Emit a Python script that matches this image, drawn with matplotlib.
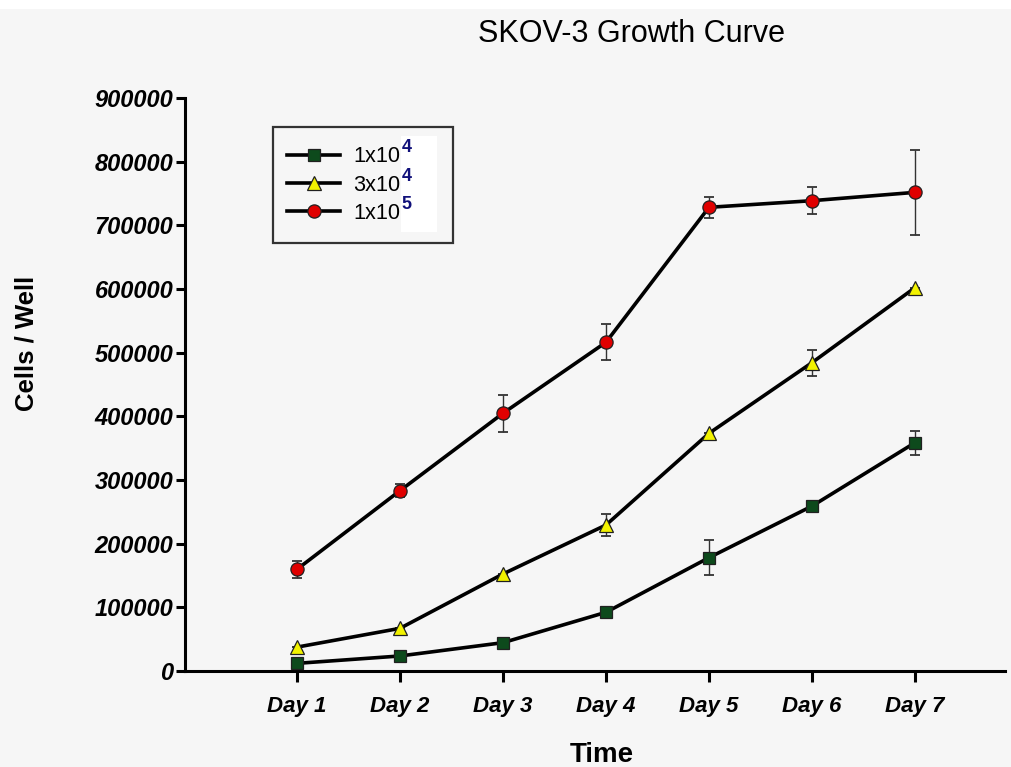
import matplotlib
matplotlib.use("Agg")
import matplotlib.pyplot as plt
from matplotlib.patches import Rectangle

days = ["Day 1", "Day 2", "Day 3", "Day 4", "Day 5", "Day 6", "Day 7"]

cells_1e4 = [12000, 23600, 44500, 92200, 178000, 259000, 358600]
err_1e4 = [0, 0, 0, 0, 27000, 0, 19000]

cells_3e4 = [37500, 67000, 152400, 229300, 373300, 484300, 602100]
err_3e4 = [0, 0, 0, 17500, 0, 20500, 0]

cells_1e5 = [159700, 283200, 404800, 516300, 728300, 738700, 751800]
err_1e5 = [13000, 10500, 29000, 28000, 16000, 21000, 66500]

yticks = [0, 100000, 200000, 300000, 400000, 500000, 600000, 700000, 800000, 900000]

legend_bases = ["1x10", "3x10", "1x10"]
legend_exps = ["4", "4", "5"]

plt.rcParams["font.family"] = ["Liberation Sans", "DejaVu Sans"]

W, H = 1011, 767
bg = "#f6f6f6"
fig = plt.figure(figsize=(W / 100, H / 100), dpi=100, facecolor=bg)
fig.patches.append(Rectangle((0, 1 - 9 / H), 1, 9 / H, transform=fig.transFigure,
                             facecolor="white", edgecolor="none", zorder=0))

ax = fig.add_axes([185 / W, 1 - 671 / H, 820 / W, 573 / H])
ax.set_facecolor(bg)

x = list(range(len(days)))

series = [
    (cells_1e4, err_1e4, "s", "#0d4a1c", 8.5),
    (cells_3e4, err_3e4, "^", "#f2f200", 10),
    (cells_1e5, err_1e5, "o", "#e00000", 9.5),
]

handles = []
for vals, errs, mk, col, ms in series:
    ax.errorbar(x, vals, yerr=errs, fmt="none", ecolor="#333333",
                elinewidth=1.0, capsize=3.8, capthick=1.3, zorder=2)
    h, = ax.plot(x, vals, color="black", lw=2.6, marker=mk, markersize=ms,
                 markerfacecolor=col, markeredgecolor="#202020",
                 markeredgewidth=0.9, zorder=3)
    handles.append(h)

ax.set_xlim(-1.087, 6.874)
ax.set_ylim(0, 900000)
ax.set_yticks(yticks)
ax.set_yticklabels([str(v) for v in yticks])
ax.set_xticks(x)
ax.set_xticklabels(days)

for s in ["top", "right"]:
    ax.spines[s].set_visible(False)
ax.spines["left"].set_linewidth(2.2)
ax.spines["bottom"].set_linewidth(2.2)
ax.tick_params(axis="y", direction="out", length=6.5, width=2.2, pad=2)
ax.tick_params(axis="x", direction="out", length=8, width=2.2, pad=10)

for lbl in ax.get_yticklabels():
    lbl.set_fontweight("bold")
    lbl.set_fontstyle("italic")
    lbl.set_fontsize(17)
for lbl in ax.get_xticklabels():
    lbl.set_fontweight("bold")
    lbl.set_fontstyle("italic")
    lbl.set_fontsize(16)

fig.text(26 / W, 1 - 343 / H, "Cells / Well", fontsize=18.5, fontweight="bold",
         rotation=90, ha="center", va="center")
fig.text(602 / W, 1 - 755 / H, "Time", fontsize=20, fontweight="bold",
         ha="center", va="center")
fig.text(631 / W, 1 - 34 / H, "SKOV-3 Growth Curve", fontsize=22,
         ha="center", va="center")

# legend frame drawn as a fixed box; entries placed inside it
ax.add_patch(Rectangle((273 / W, 1 - 243 / H), 180 / W, 116 / H,
                       transform=fig.transFigure, facecolor=bg,
                       edgecolor="#333333", linewidth=1.6, zorder=4,
                       clip_on=False))
leg_fs = 15.6
leg = ax.legend(handles, legend_bases, loc="upper left",
                bbox_to_anchor=((270 - 185) / 820, (671 - 129) / 573),
                fontsize=leg_fs, frameon=False, handlelength=2.44,
                handletextpad=0.6, borderpad=0.8, labelspacing=0.34,
                borderaxespad=0)
leg.set_zorder(7)

fig.canvas.draw()
renderer = fig.canvas.get_renderer()
x_end = max(t.get_window_extent(renderer).x1 for t in leg.get_texts())
ax.add_patch(Rectangle(((x_end + 1) / W, 1 - 232 / H), 36 / W, 96 / H,
                       transform=fig.transFigure, facecolor="white",
                       edgecolor="none", zorder=5, clip_on=False))
for t, e in zip(leg.get_texts(), legend_exps):
    bb = t.get_window_extent(renderer)
    fig.text((bb.x1 + 1.5) / W, (bb.y0 + bb.y1) / 2 / H + 9 / H, e,
             fontsize=13, fontweight="bold", color="#10107a",
             ha="left", va="center", zorder=8)

fig.savefig("out.png", dpi=100, facecolor=fig.get_facecolor())
